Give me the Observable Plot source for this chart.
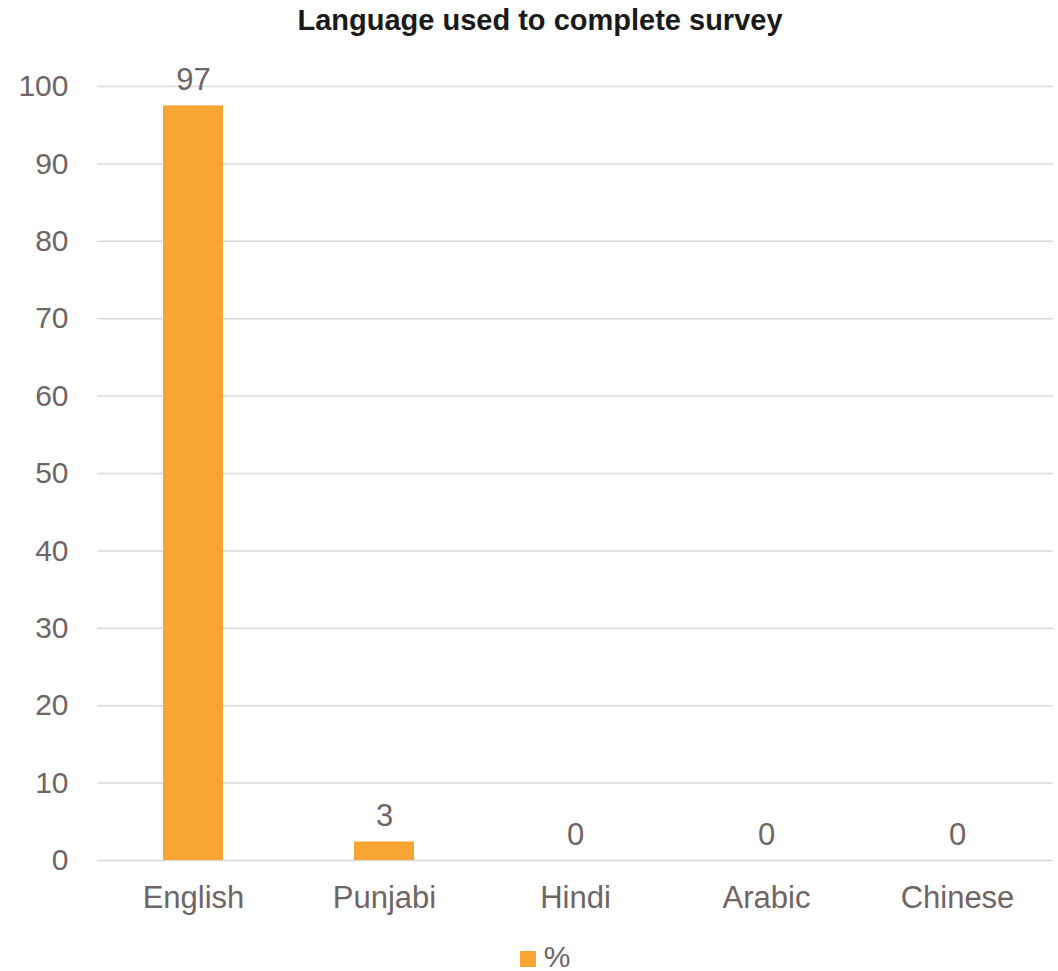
<!DOCTYPE html>
<html>
<head>
<meta charset="utf-8">
<script src="https://cdn.jsdelivr.net/npm/d3@7"></script>
<script src="https://cdn.jsdelivr.net/npm/@observablehq/plot@0.6"></script>
<style>
  html, body { margin: 0; padding: 0; background: #fff; overflow: hidden; }
  body { width: 1058px; font-family: "Liberation Sans", Arial, sans-serif; }
  #title { height: 40px; line-height: 40px; text-align: center; font-weight: bold; font-size: 29px; color: #1a1a1a; padding-left: 22px; box-sizing: border-box; }
  #chart svg { display: block; }
  #legend { height: 41px; padding-top: 12px; padding-left: 32px; box-sizing: border-box; display: flex; justify-content: center; align-items: center; font-size: 30px; color: #6f6466; line-height: 30px; }
  #legend .sw { width: 16px; height: 16px; background: #F8A533; margin-right: 8px; margin-top: 4px; }
</style>
</head>
<body>
<div id="title">Language used to complete survey</div>
<div id="chart"></div>
<div id="legend"><span class="sw"></span><span>%</span></div>
<script>
const categories = ["English", "Punjabi", "Hindi", "Arabic", "Chinese"];
const percents = [97.5, 2.4, 0, 0, 0];
const valueLabels = ["97", "3", "0", "0", "0"];
const yTicks = [0, 10, 20, 30, 40, 50, 60, 70, 80, 90, 100];

const data = categories.map((c, i) => ({category: c, value: percents[i], label: valueLabels[i]}));

const textColor = "#6f6466";
const barColor = "#F8A533";

const chart = Plot.plot({
  width: 1058,
  height: 890,
  marginTop: 46,
  marginBottom: 70,
  marginLeft: 97,
  marginRight: 5,
  style: {fontFamily: "'Liberation Sans', Arial, sans-serif", fontSize: "30px", color: textColor, background: "#fff"},
  x: {domain: categories, paddingInner: 0.686, paddingOuter: 0.343, label: null},
  y: {domain: [0, 100], label: null},
  marks: [
    Plot.gridY(yTicks, {stroke: "#dcd8d8", strokeOpacity: 1, strokeWidth: 1.5}),
    Plot.barY(data, {x: "category", y: "value", fill: barColor}),
    Plot.text(data, {x: "category", y: "value", text: "label", lineAnchor: "bottom", dy: -16, fill: textColor, fontSize: 31}),
    Plot.axisY(yTicks, {tickSize: 0, tickPadding: 29, fontSize: 30, fill: textColor, label: null}),
    Plot.axisX({tickSize: 0, tickPadding: 25, fontSize: 31, fill: textColor, label: null})
  ]
});
document.getElementById("chart").appendChild(chart);
</script>
</body>
</html>
